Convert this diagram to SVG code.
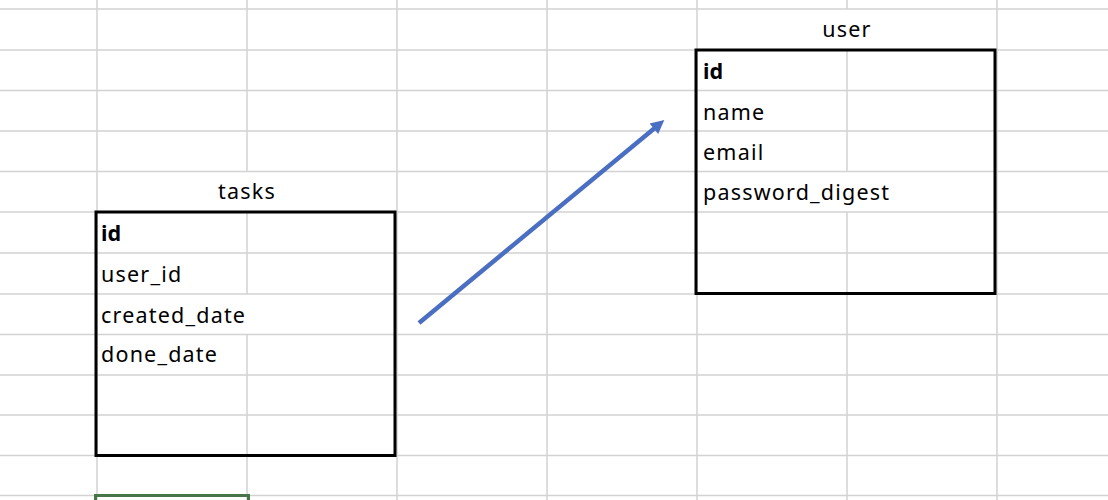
<svg xmlns="http://www.w3.org/2000/svg" width="1108" height="500" viewBox="0 0 1108 500">
<style>
.g{stroke:#d2d2d2;stroke-width:1.5;fill:none}
.box{fill:none;stroke:#000;stroke-width:3}
.t{font-family:"Noto Sans","DejaVu Sans",sans-serif;font-size:21.5px;letter-spacing:1.2px;fill:#000}
.b{font-weight:bold;letter-spacing:0}
.h{text-anchor:middle}
.conn{stroke:#4a6fc2;stroke-width:4.5;fill:none}
</style>
<defs>
<marker id="ah" viewBox="0 0 10 10" refX="2" refY="5" markerWidth="3.6" markerHeight="3" orient="auto" markerUnits="strokeWidth">
<path d="M0,0 L10,5 L0,10 z" fill="#4a6fc2"/>
</marker>
</defs>
<rect width="1108" height="500" fill="#fff"/>
<g id="grid" class="g">
<path d="M0,9H1108M0,50H1108M0,90.5H1108M0,131H1108M0,171.5H1108M0,212H1108M0,253H1108M0,294H1108M0,334.5H1108M0,375H1108M0,415H1108M0,455.5H1108M0,495.5H1108"/>
<path d="M97,0V500M397,0V500M547,0V500M697,0V500M997,0V500"/>
<path d="M247,0V171.5M247,212V294M247,334.5V500"/>
<path d="M847,0V9M847,50V171.5M847,212V500"/>
</g>
<g id="selection">
<path d="M95.5,500V495.5H248.5V500" fill="none" stroke="#477548" stroke-width="3"/>
</g>
<g id="tasks">
<rect class="box" x="96" y="212" width="299" height="243.5"/>
<text class="t h" x="247" y="199">tasks</text>
<text class="t b" x="101" y="241">id</text>
<text class="t" x="101" y="282">user_id</text>
<text class="t" x="101" y="322.5">created_date</text>
<text class="t" x="101" y="362">done_date</text>
</g>
<g id="user">
<rect class="box" x="696" y="50" width="299" height="243.5"/>
<text class="t h" x="847" y="37">user</text>
<text class="t b" x="703" y="79">id</text>
<text class="t" x="703" y="119.5">name</text>
<text class="t" x="703" y="160">email</text>
<text class="t" x="703" y="200">password_digest</text>
</g>
<g id="connectors">
<line class="conn" x1="419" y1="323" x2="656" y2="127" marker-end="url(#ah)"/>
</g>
</svg>
